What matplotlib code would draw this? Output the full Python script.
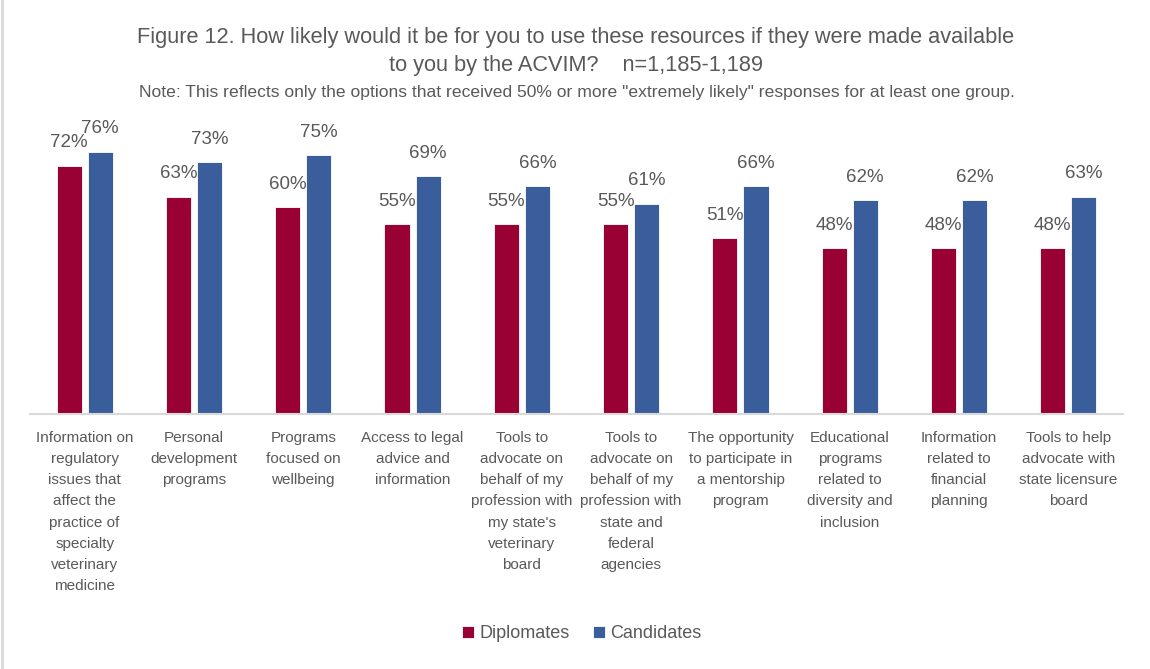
import matplotlib.pyplot as plt
from matplotlib.lines import Line2D
import numpy as np

plt.rcParams['font.family'] = ['Liberation Sans Narrow', 'Liberation Sans', 'DejaVu Sans']

categories = [
    "Information on\nregulatory\nissues that\naffect the\npractice of\nspecialty\nveterinary\nmedicine",
    "Personal\ndevelopment\nprograms",
    "Programs\nfocused on\nwellbeing",
    "Access to legal\nadvice and\ninformation",
    "Tools to\nadvocate on\nbehalf of my\nprofession with\nmy state's\nveterinary\nboard",
    "Tools to\nadvocate on\nbehalf of my\nprofession with\nstate and\nfederal\nagencies",
    "The opportunity\nto participate in\na mentorship\nprogram",
    "Educational\nprograms\nrelated to\ndiversity and\ninclusion",
    "Information\nrelated to\nfinancial\nplanning",
    "Tools to help\nadvocate with\nstate licensure\nboard",
]
diplomates = [72, 63, 60, 55, 55, 55, 51, 48, 48, 48]
candidates = [76, 73, 75, 69, 66, 61, 66, 62, 62, 63]

RED = "#990033"
BLUE = "#3A5E9C"
GRAY = "#595959"

fig = plt.figure(figsize=(11.5, 6.69), dpi=100)
ax = fig.add_axes([30 / 1150, 1 - 414 / 669, 1093 / 1150, 276 / 669])

x = np.arange(len(categories))
w = 0.23
off = 0.142
b1 = ax.bar(x - off, diplomates, w, color=RED, edgecolor="white", linewidth=0.6, label="Diplomates")
b2 = ax.bar(x + off, candidates, w, color=BLUE, edgecolor="white", linewidth=0.6, label="Candidates")

for bars, vals in ((b1, diplomates), (b2, candidates)):
    for bar, v in zip(bars, vals):
        ax.annotate(f"{v}%", (bar.get_x() + bar.get_width() / 2, v),
                    xytext=(0, 16.5), textcoords="offset points",
                    ha="center", va="center", fontsize=13.5, color=GRAY,
                    annotation_clip=False)

ax.set_xlim(-0.5, len(categories) - 0.5)
ax.set_ylim(0, 80)
ax.set_yticks([])
ax.set_xticks(x)
ax.set_xticklabels(categories, fontsize=11, color=GRAY, linespacing=1.66)
ax.tick_params(axis="x", length=0, pad=12)
for s in ("top", "right", "left"):
    ax.spines[s].set_visible(False)
ax.spines["bottom"].set_color("#D9D9D9")
ax.spines["bottom"].set_linewidth(1.5)

fig.text(576 / 1150, 1 - 51.5 / 669,
         "Figure 12. How likely would it be for you to use these resources if they were made available\n"
         "to you by the ACVIM?    n=1,185-1,189",
         ha="center", va="center", fontsize=15.7, color=GRAY, linespacing=1.42)
fig.text(577 / 1150, 1 - 92 / 669,
         "Note: This reflects only the options that received 50% or more \"extremely likely\" responses for at least one group.",
         ha="center", va="center", fontsize=12.6, color=GRAY)

fig.legend(handles=[b1, b2], loc="center", bbox_to_anchor=(582 / 1150, 1 - 634 / 669),
           ncol=2, frameon=False, fontsize=13, labelcolor=GRAY,
           handlelength=0.65, handleheight=0.65, handletextpad=0.3, columnspacing=1.3)

# thin gray frame edge on the left
fig.add_artist(Line2D([1.5 / 1150, 1.5 / 1150], [0, 1], color="#D9D9D9", linewidth=2,
                      transform=fig.transFigure))

fig.savefig("out.png", dpi=100, facecolor="white")
